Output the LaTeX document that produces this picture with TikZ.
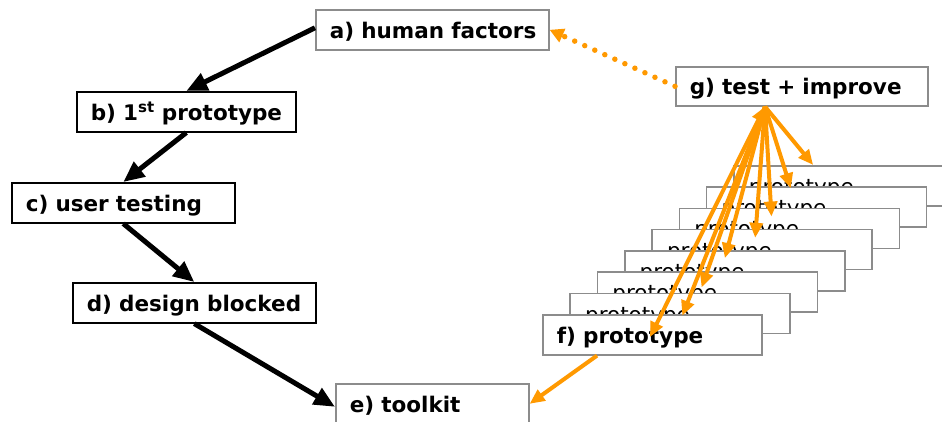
\documentclass[tikz,border=0pt]{standalone}
\usepackage{fontspec}
\setmainfont{DejaVu Sans}
\usetikzlibrary{arrows.meta,calc}
\definecolor{org}{HTML}{FF9900}
\definecolor{gbord}{HTML}{8C8C8C}
\begin{document}
\begin{tikzpicture}[x=1pt,y=-1pt,
  box/.style={draw=black,line width=1.6pt,fill=white,anchor=north west,
    inner xsep=14pt,inner ysep=0pt,align=left,minimum height=40pt,
    text height=19pt,text depth=2pt,
    font=\fontsize{21.5}{25}\selectfont\bfseries},
  graybox/.style={box,draw=gbord},
  stackbox/.style={graybox,font=\fontsize{21.5}{25}\selectfont,text width=190pt,inner xsep=15pt},
  blk/.style={line width=5pt,-{Triangle[length=21pt,width=18pt]}},
  orng/.style={draw=org,line width=4pt,-{Triangle[length=15pt,width=13pt]}},
  dots/.style={draw=org,line width=5.5pt,line cap=round,dash pattern=on 0pt off 11pt,
    -{Triangle[length=14pt,width=14pt,fill=org]}}
]
\clip (0,0) rectangle (942,421);
\fill[white] (0,0) rectangle (942,421);

% stack of prototypes (back to front)
\foreach \k in {7,6,...,1}{
  \node[stackbox] (s\k) at ({542+27.3*\k},{314-21.3*\k}) {\mbox{prototype}};
}

\node[graybox,text width=205pt] (a) at (315,9) {\mbox{a) human factors}};
\node[box,text width=191pt] (b) at (76,91) {\mbox{b) 1\textsuperscript{st} prototype}};
\node[box,text width=195pt] (c) at (11,182) {\mbox{c) user testing}};
\node[box,text width=215pt] (d) at (72,282) {\mbox{d) design blocked}};
\node[graybox,text width=165pt] (e) at (335,383) {\mbox{e) toolkit}};
\node[graybox,text width=191pt] (f) at (542,314) {\mbox{f) prototype}};
\node[graybox,text width=224pt,minimum height=39pt] (g) at (675,66) {\mbox{g) test + improve}};

% black flow
\draw[blk] ($(a.west)+(0,-2)$) -- (b.north);
\draw[blk] (b.south) -- (c.north);
\draw[blk] (c.south) -- (d.north);
\draw[blk] (d.south) -- ($(e.west)+(0,3)$);

% orange connectors
\draw[dots] (g.west) -- (a.east);
\draw[orng] ($(f.south west)+(55,0)$) -- (e.east);

\coordinate (go) at ($(g.south west)+(90,0)$);
\coordinate (t7) at ($(s7.north west)+(80,0)$);
\coordinate (t6) at ($(s6.north west)+(85,2)$);
\coordinate (t5) at ($(s5.north west)+(93,9)$);
\coordinate (t4) at ($(s4.north west)+(104,9)$);
\coordinate (t3) at ($(s3.north west)+(101,8)$);
\coordinate (t2) at ($(s2.north west)+(105,16)$);
\coordinate (t1) at ($(s1.north west)+(113,23)$);
\coordinate (tf) at ($(f.north west)+(108,23)$);
\foreach \t in {t7,t6,t5,t4,t3,t2,t1}{
  \draw[orng] (go) -- (\t);
}
\draw[orng,{Triangle[length=15pt,width=13pt]}-{Triangle[length=15pt,width=13pt]}] (go) -- (tf);
\end{tikzpicture}
\end{document}
